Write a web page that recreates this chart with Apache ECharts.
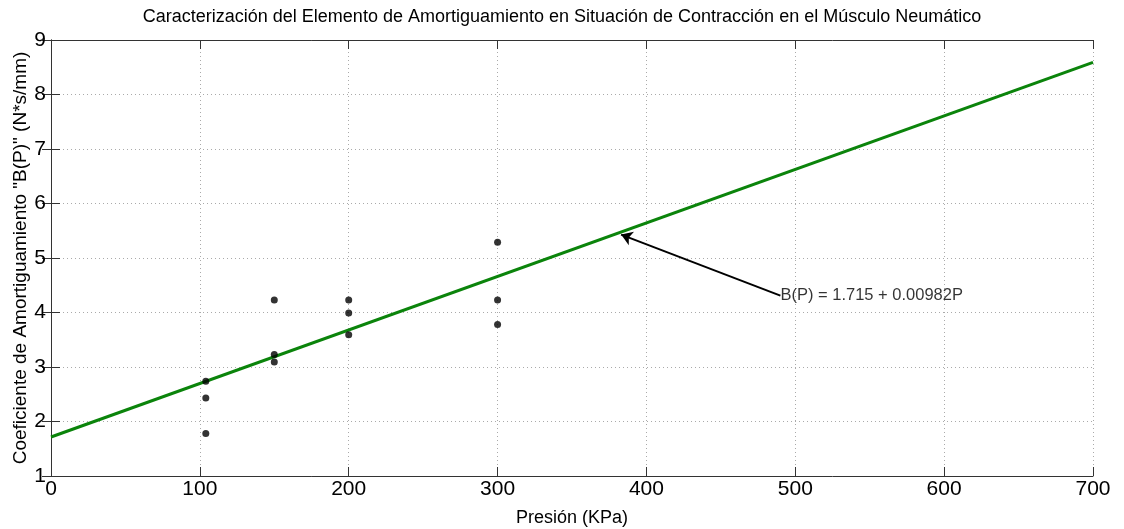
<!DOCTYPE html>
<html>
<head>
<meta charset="utf-8">
<script src="https://cdn.jsdelivr.net/npm/echarts@6/dist/echarts.min.js"></script>
<style>
    html, body { margin: 0; padding: 0; background: #fff; }
    #chart { width: 1124px; height: 529px; }
</style>
</head>
<body>
<div id="chart"></div>
<script>
    // mediciones (presión KPa, coeficiente B)
    var puntos = [
        [104, 2.74], [104, 2.43], [104, 1.78],
        [150, 4.23], [150, 3.23], [150, 3.09],
        [200, 4.23], [200, 3.99], [200, 3.59],
        [300, 5.29], [300, 4.23], [300, 3.78]
    ];
    // recta de ajuste, extremos
    var ajuste = [[0, 1.715], [700, 8.589]];
    // flecha de la anotación: cola -> punta
    var flecha = [[490, 4.31], [383, 5.43]];
    var etiqueta = 'B(P) = 1.715 + 0.00982P';

    var fuente = 'Liberation Sans, Arial, sans-serif';
    var borde = '#333';
    var rejilla = { show: true, lineStyle: { color: '#aaa', type: [1, 3] } };
    var marca = { inside: true, length: 9, lineStyle: { color: borde } };

    var myChart = echarts.init(document.getElementById('chart'));
    var option = {
        animation: false,
        title: {
            text: 'Caracterización del Elemento de Amortiguamiento en Situación de Contracción en el Músculo Neumático',
            left: 'center',
            top: 3,
            textStyle: { fontFamily: fuente, fontSize: 18, fontWeight: 'normal', color: '#000' }
        },
        grid: { left: 51, right: 31, top: 40, bottom: 53, outerBoundsMode: 'none' },
        xAxis: [{
            type: 'value',
            min: 0, max: 700, interval: 100,
            name: 'Presión (KPa)',
            nameLocation: 'middle',
            nameGap: 33,
            nameTextStyle: { fontFamily: fuente, fontSize: 18, color: '#000' },
            axisLine: { lineStyle: { color: borde } },
            axisTick: marca,
            axisLabel: { fontFamily: fuente, fontSize: 21, color: '#000', margin: 3 },
            splitLine: rejilla
        }, {
            // eje superior: solo marco y marcas
            type: 'value', position: 'top',
            min: 0, max: 700, interval: 100,
            axisLine: { show: true, lineStyle: { color: borde } },
            axisTick: marca,
            axisLabel: { show: false },
            splitLine: { show: false }
        }],
        yAxis: [{
            type: 'value',
            min: 1, max: 9, interval: 1,
            name: 'Coeficiente de Amortiguamiento "B(P)" (N*s/mm)',
            nameLocation: 'middle',
            nameGap: 21,
            nameMoveOverlap: false,
            nameTextStyle: { fontFamily: fuente, fontSize: 19, color: '#000' },
            axisLine: { lineStyle: { color: borde } },
            axisTick: marca,
            axisLabel: { fontFamily: fuente, fontSize: 21, color: '#000', margin: 5 },
            splitLine: rejilla
        }, {
            type: 'value', position: 'right',
            min: 1, max: 9, interval: 1,
            axisLine: { show: true, lineStyle: { color: borde } },
            axisTick: marca,
            axisLabel: { show: false },
            splitLine: { show: false }
        }],
        series: [
            {
                type: 'line',
                data: ajuste,
                symbol: 'none',
                lineStyle: { color: '#0b840b', width: 3 },
                z: 3
            },
            {
                type: 'scatter',
                data: puntos,
                symbolSize: 7,
                itemStyle: { color: '#000' },
                z: 4
            },
            {
                type: 'scatter',
                data: [flecha[0]],
                symbolSize: 0,
                label: {
                    show: true,
                    position: 'right',
                    distance: 0,
                    formatter: etiqueta,
                    fontFamily: fuente,
                    fontSize: 16.5,
                    color: '#000'
                },
                markLine: {
                    silent: true,
                    symbol: ['none', 'arrow'],
                    symbolSize: 11,
                    label: { show: false },
                    lineStyle: { color: '#000', width: 2, type: 'solid' },
                    data: [[{ coord: flecha[0] }, { coord: flecha[1] }]]
                }
            }
        ]
    };
    myChart.setOption(option);
</script>
</body>
</html>
